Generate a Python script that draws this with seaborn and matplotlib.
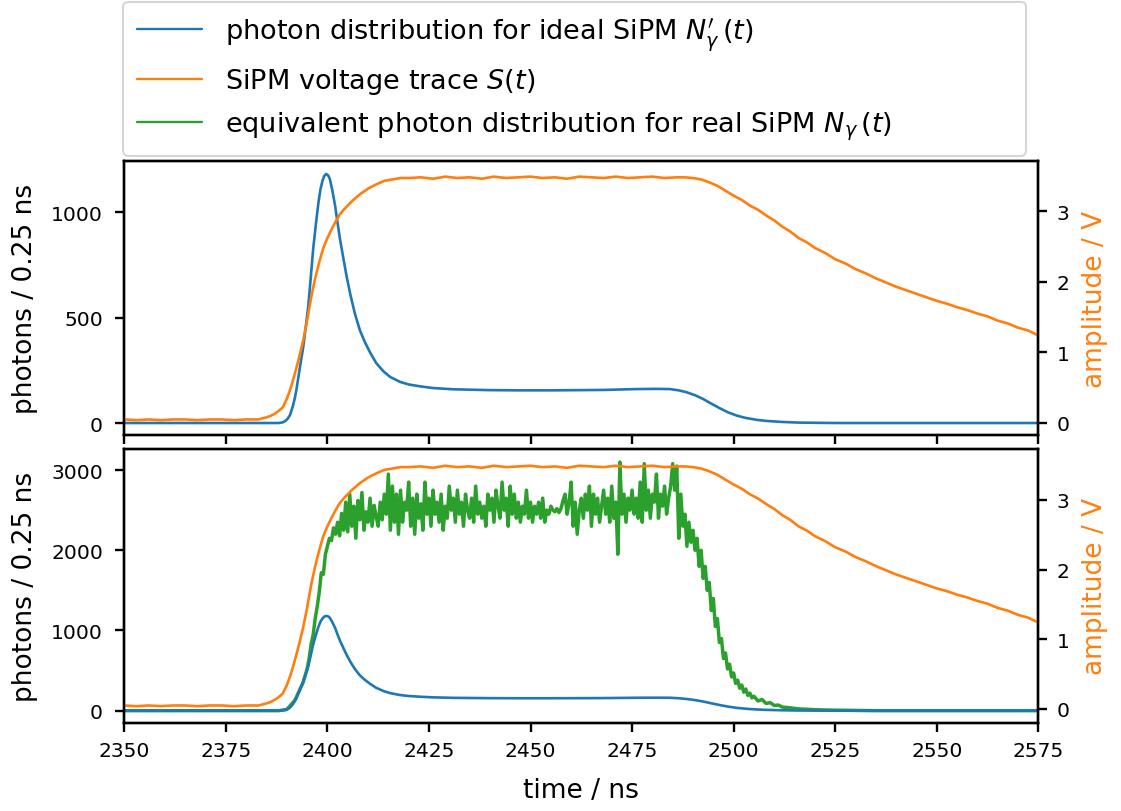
import numpy as np
import matplotlib
matplotlib.use("Agg")
import matplotlib.pyplot as plt
import seaborn as sns
from matplotlib.lines import Line2D

# ---------------- data ----------------
# ideal SiPM photon distribution N'_gamma(t)  [photons / 0.25 ns]
blue_t = [2350, 2385, 2388, 2389, 2389.5, 2390.2, 2390.8, 2391.5, 2392.0, 2392.4,
          2393.2, 2394.1, 2394.7, 2395.3, 2395.9, 2396.5, 2397.2, 2397.8, 2398.3,
          2398.8, 2399.2, 2399.7, 2400.2, 2400.6, 2401.2, 2401.9, 2402.5, 2403.1,
          2403.9, 2404.7, 2405.7, 2406.8, 2408.0, 2409.2, 2410.5, 2412, 2413.8,
          2415.5, 2417.9, 2420, 2422.8, 2426, 2431, 2440, 2447.4, 2455, 2462,
          2468, 2476, 2481, 2484.3, 2486.5, 2488.4, 2490.5, 2492.5, 2494.5,
          2496.6, 2498.7, 2500.8, 2503, 2505.7, 2508, 2512, 2516, 2520, 2525, 2575]
blue_v = [0, 0, 0, 3, 8, 20, 38, 80, 120, 161,
          260, 367, 460, 557, 690, 826, 950, 1047, 1110,
          1150, 1172, 1182, 1175, 1158, 1105, 1031, 950, 873,
          785, 699, 605, 517, 440, 385, 335, 285, 245,
          218, 195, 183, 174, 166, 160, 156, 155, 155, 156,
          157, 161, 162, 161, 155, 146, 132, 114, 92,
          70, 50, 35, 24, 15, 10, 5, 2, 1, 0, 0]

# SiPM voltage trace S(t)  [V]
orange_t = [2350, 2353, 2356, 2359, 2362, 2365, 2368, 2371, 2374, 2377, 2380,
            2383, 2385, 2386, 2387, 2388, 2389, 2390, 2391, 2392, 2393, 2394,
            2395, 2396, 2397, 2398, 2399, 2400, 2401, 2402, 2403, 2404, 2405,
            2406, 2407, 2408, 2410, 2412, 2414, 2416, 2418, 2420, 2423, 2426,
            2429, 2432, 2435, 2438, 2441, 2444, 2447, 2450, 2453, 2456, 2459,
            2462, 2465, 2468, 2471, 2474, 2477, 2480, 2483, 2486, 2488, 2490,
            2492, 2494, 2496, 2498, 2500, 2502, 2504, 2506, 2508, 2510, 2512,
            2514, 2516, 2518, 2520, 2522.5, 2525, 2527.5, 2530, 2532.5, 2535,
            2537.5, 2540, 2542.5, 2545, 2547.5, 2550, 2552.5, 2555, 2557.5,
            2560, 2562.5, 2565, 2567.5, 2570, 2572.5, 2575]
orange_v = [0.05, 0.04, 0.05, 0.04, 0.05, 0.05, 0.04, 0.05, 0.05, 0.04, 0.05,
            0.05, 0.08, 0.10, 0.13, 0.17, 0.22, 0.34, 0.50, 0.70, 0.92, 1.16,
            1.45, 1.78, 2.05, 2.28, 2.48, 2.62, 2.74, 2.85, 2.95, 3.02, 3.08,
            3.14, 3.19, 3.24, 3.32, 3.38, 3.43, 3.45, 3.47, 3.47, 3.48, 3.46,
            3.49, 3.47, 3.48, 3.46, 3.49, 3.47, 3.48, 3.49, 3.47, 3.48, 3.46,
            3.49, 3.48, 3.47, 3.49, 3.47, 3.48, 3.49, 3.47, 3.48, 3.48, 3.47,
            3.45, 3.41, 3.36, 3.29, 3.22, 3.16, 3.08, 3.02, 2.94, 2.87, 2.78,
            2.71, 2.62, 2.56, 2.48, 2.41, 2.32, 2.26, 2.18, 2.12, 2.05,
            1.99, 1.93, 1.88, 1.83, 1.78, 1.73, 1.69, 1.64, 1.60,
            1.55, 1.51, 1.45, 1.41, 1.35, 1.31, 1.24]

# equivalent photon distribution for real SiPM N_gamma(t)  [photons / 0.25 ns]
green_head_t = [2350, 2388, 2390, 2392, 2394, 2395, 2395.5]
green_head_v = [0, 0, 15, 130, 350, 520, 650]
green_mid_t = np.arange(2396.0, 2505.01, 0.5)
green_mid_v = [
    830, 950, 1150, 1300, 1480, 1720, 1700, 1950, 2050, 2150,
    2120, 2280, 2200, 2350, 2180, 2460, 2250, 2600, 2230, 2700,
    2300, 2550, 2150, 2620, 2380, 2720, 2250, 2480, 2350, 2650,
    2300, 2560, 2420, 2300, 2600, 2380, 2700, 2450, 2950, 2250,
    2800, 2350, 2700, 2200, 2750, 2350, 2600, 2500, 2850, 2300,
    2650, 2200, 2700, 2400, 2580, 2250, 2850, 2450, 2650, 2300,
    2750, 2450, 2600, 2350, 2700, 2250, 2550, 2400, 2800, 2500,
    2650, 2350, 2750, 2450, 2600, 2300, 2700, 2500, 2400, 2650,
    2350, 2800, 2450, 2600, 2400, 2550, 2300, 2700, 2500, 2650,
    2350, 2750, 2550, 2400, 2850, 2500, 2650, 2300, 2800, 2450,
    2700, 2400, 2600, 2350, 2550, 2450, 2750, 2400, 2600, 2350,
    2550, 2450, 2600, 2400, 2650, 2350, 2500, 2450, 2550, 2500,
    2480, 2520, 2470, 2520, 2620, 2700, 2450, 2600, 2850, 2300,
    2600, 2200, 2500, 2650, 2400, 2700, 2500, 2800, 2300, 2700,
    2450, 2650, 2350, 2550, 2750, 2450, 2650, 2350, 2800, 2400,
    2600, 1950, 3100, 2450, 2700, 2350, 2650, 2500, 2750, 2450,
    2650, 2400, 2850, 2350, 3080, 2500, 2750, 2400, 2700, 2600,
    2950, 2400, 2700, 2550, 2800, 2450, 2650, 2800, 3080, 2750,
    3050, 2150, 2700, 2300, 2450, 2050, 2350, 2100, 2250, 2000,
    2150, 1800, 2000, 1650, 1800, 1500, 1600, 1250, 1400, 1050,
    1150, 850, 900, 650, 720, 520, 580, 420, 470, 340,
    380, 280, 320, 230, 270, 190, 220, 160, 180]
green_tail_t = [2506, 2507, 2508, 2509, 2510, 2511, 2512, 2514, 2516, 2518,
                2520, 2525, 2530, 2535, 2575]
green_tail_v = [120, 140, 90, 100, 65, 70, 45, 35, 22, 18,
                12, 6, 3, 0, 0]

green_t = list(green_head_t) + list(green_mid_t) + list(green_tail_t)
green_v = list(green_head_v) + list(green_mid_v) + list(green_tail_v)

xticks = [2350, 2375, 2400, 2425, 2450, 2475, 2500, 2525, 2550, 2575]
labels = [r"photon distribution for ideal SiPM $N^{\prime}_{\gamma}\,(t)$",
          r"SiPM voltage trace $S(t)$",
          r"equivalent photon distribution for real SiPM $N_{\gamma}\,(t)$"]

# ---------------- style ----------------
sns.set_theme(style="ticks")
plt.rcParams.update({
    "font.family": ["DejaVu Sans"],
    "mathtext.fontset": "dejavusans",
    "text.color": "black",
    "axes.labelcolor": "black",
    "axes.linewidth": 1.7,
    "xtick.major.width": 1.7,
    "ytick.major.width": 1.7,
    "xtick.major.size": 6.8,
    "ytick.major.size": 6.8,
    "xtick.direction": "out",
    "ytick.direction": "out",
    "xtick.labelsize": 14.6,
    "ytick.labelsize": 14.6,
    "axes.labelsize": 19,
    "xtick.color": "black",
    "ytick.color": "black",
    "axes.edgecolor": "black",
    "xtick.major.pad": 6.5,
    "ytick.major.pad": 8.6,
})

C_BLUE, C_ORANGE, C_GREEN = "#1f77b4", "#ff7f0e", "#2ca02c"
LW = 1.9

fig = plt.figure(figsize=(11.21, 8.12), dpi=100)
L, W = 0.11088, 0.81534
ax_top = fig.add_axes([L, 0.46342, W, 0.33670])
ax_bot = fig.add_axes([L, 0.10874, W, 0.33707], sharex=ax_top)

# top panel
sns.lineplot(x=blue_t, y=blue_v, ax=ax_top, color=C_BLUE, linewidth=LW,
             estimator=None, legend=False)
ax_top_r = ax_top.twinx()
sns.lineplot(x=orange_t, y=orange_v, ax=ax_top_r, color=C_ORANGE, linewidth=LW,
             estimator=None, legend=False)

# bottom panel
sns.lineplot(x=green_t, y=green_v, ax=ax_bot, color=C_GREEN, linewidth=2.5,
             estimator=None, legend=False)
sns.lineplot(x=blue_t, y=blue_v, ax=ax_bot, color=C_BLUE, linewidth=LW,
             estimator=None, legend=False)
ax_bot_r = ax_bot.twinx()
sns.lineplot(x=orange_t, y=orange_v, ax=ax_bot_r, color=C_ORANGE, linewidth=LW,
             estimator=None, legend=False)

ax_top.set_xlim(2350, 2575)
ax_top.set_xticks(xticks)
ax_top.set_ylim(-55.5, 1242)
ax_top_r.set_ylim(-0.166, 3.707)
ax_bot.set_ylim(-150, 3263)
ax_bot_r.set_ylim(-0.197, 3.73)
ax_top.set_yticks([0, 500, 1000])
ax_bot.set_yticks([0, 1000, 2000, 3000])
for a in (ax_top_r, ax_bot_r):
    a.set_yticks([0, 1, 2, 3])
    a.tick_params(axis="y", pad=6.5)
plt.setp(ax_top.get_xticklabels(), visible=False)

for a in (ax_top, ax_bot):
    a.set_ylabel("photons / 0.25 ns")
    a.yaxis.set_label_coords(-0.094, 0.5)
for a in (ax_top_r, ax_bot_r):
    a.set_ylabel("amplitude / V", color=C_ORANGE)
    a.yaxis.set_label_coords(1.048, 0.5)
ax_top.set_xlabel("")
ax_bot.set_xlabel("time / ns")
ax_bot.xaxis.set_label_coords(0.5, -0.198)

handles = [Line2D([], [], color=c, lw=1.7) for c in (C_BLUE, C_ORANGE, C_GREEN)]
leg = fig.legend(handles, labels, loc="lower left", mode="expand",
                 bbox_to_anchor=(123.3 / 1121, 1 - 156.7 / 812, 902.7 / 1121, 0.01),
                 bbox_transform=fig.transFigure, borderaxespad=0,
                 fontsize=19.5, handlelength=2.4, handletextpad=0.85,
                 labelspacing=0.5, borderpad=0.5, fancybox=True,
                 edgecolor="0.8", framealpha=0.8)
leg.get_frame().set_linewidth(1.5)

fig.savefig("out.png", dpi=100)
